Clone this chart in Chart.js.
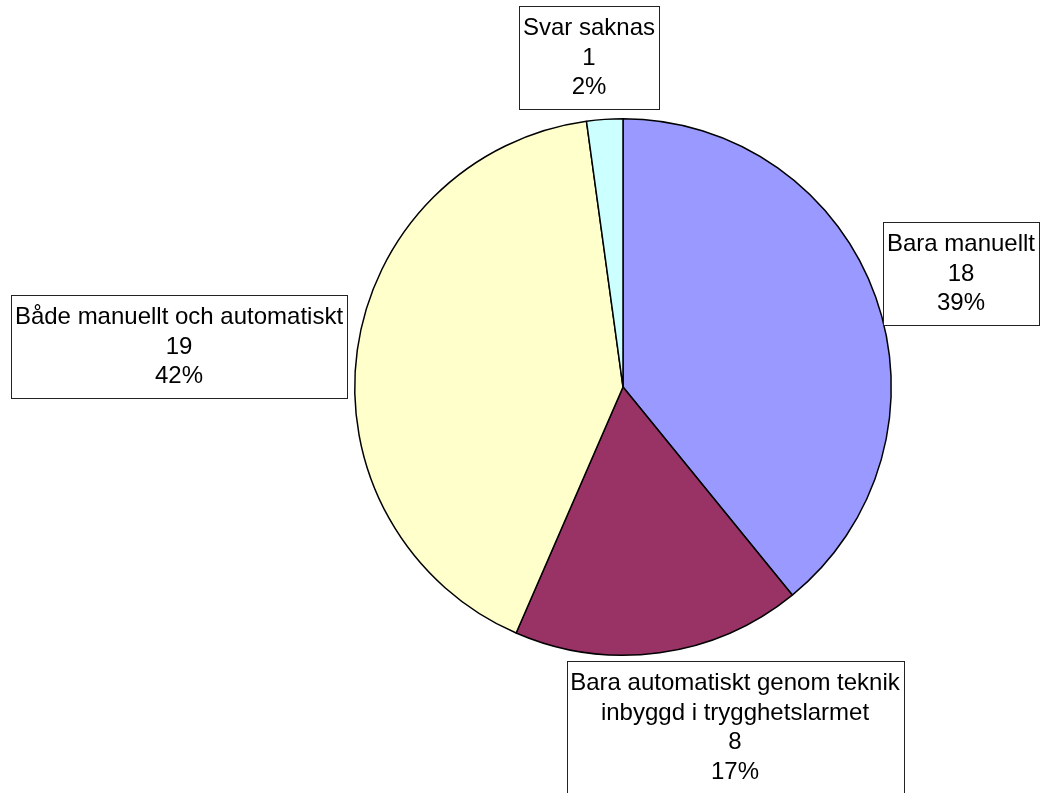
<!DOCTYPE html>
<html>
<head>
<meta charset="utf-8">
<script src="https://cdn.jsdelivr.net/npm/chart.js@4/dist/chart.umd.min.js"></script>
<style>
  html, body { margin: 0; padding: 0; background: #fff; }
  #wrap { width: 1048px; height: 793px; }
</style>
</head>
<body>
<div id="wrap"><canvas id="pieChart" width="1048" height="793"></canvas></div>
<script>
const categories = [
    'Bara manuellt',
    'Bara automatiskt genom teknik inbyggd i trygghetslarmet',
    'Både manuellt och automatiskt',
    'Svar saknas'
];
const labelLines = [
    ['Bara manuellt'],
    ['Bara automatiskt genom teknik', 'inbyggd i trygghetslarmet'],
    ['Både manuellt och automatiskt'],
    ['Svar saknas']
];
const counts = [18, 8, 19, 1];
const percents = [39, 17, 42, 2];
const sliceColors = ['#9999FF', '#993366', '#FFFFCC', '#CCFFFF'];

// where each label box sits (centre, px) - layout only
const labelCentres = [
    [961, 273],
    [735, 727],
    [179, 346],
    [589, 57]
];

const boxLabels = {
    id: 'boxLabels',
    afterDraw(chart) {
        const ctx = chart.ctx;
        const lineH = 29.5;
        ctx.save();
        ctx.font = '24px "Liberation Sans", Arial, sans-serif';
        ctx.textAlign = 'center';
        ctx.textBaseline = 'middle';
        counts.forEach((v, i) => {
            const lines = labelLines[i].concat([String(v), percents[i] + '%']);
            let w = 0;
            lines.forEach(l => { w = Math.max(w, ctx.measureText(l).width); });
            const bw = Math.round(w + 8);
            const bh = Math.round(lines.length * lineH + 14);
            const [cx, cy] = labelCentres[i];
            const x0 = Math.round(cx - bw / 2) + 0.5;
            const y0 = Math.round(cy - bh / 2) + 0.5;
            ctx.fillStyle = '#fff';
            ctx.fillRect(x0, y0, bw, bh);
            ctx.strokeStyle = '#222';
            ctx.lineWidth = 1;
            ctx.strokeRect(x0, y0, bw, bh);
            ctx.fillStyle = '#000';
            lines.forEach((l, k) => {
                ctx.fillText(l, cx, cy - (lines.length - 1) * lineH / 2 + k * lineH + 1);
            });
        });
        ctx.restore();
    }
};

new Chart(document.getElementById('pieChart'), {
    type: 'pie',
    data: {
        labels: categories,
        datasets: [{
            data: counts,
            backgroundColor: sliceColors,
            borderColor: '#000',
            borderWidth: 1.5,
            borderAlign: 'center'
        }]
    },
    options: {
        responsive: false,
        animation: false,
        layout: {
            padding: { left: 354, right: 156, top: 118, bottom: 137 }
        },
        plugins: {
            legend: { display: false },
            tooltip: { enabled: false }
        }
    },
    plugins: [boxLabels]
});
</script>
</body>
</html>
